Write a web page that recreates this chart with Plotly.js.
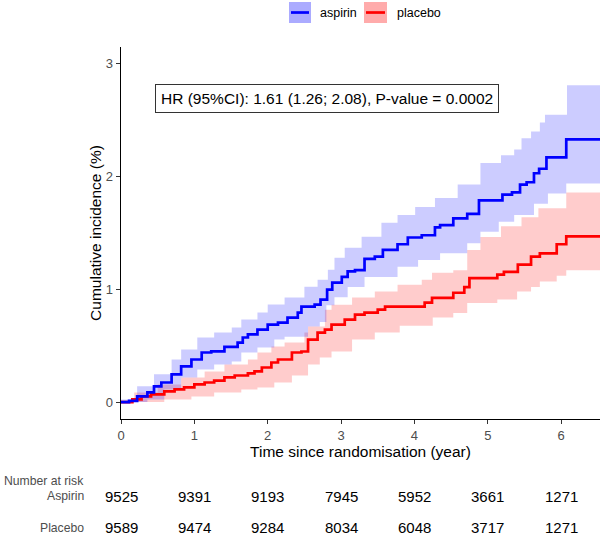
<!DOCTYPE html>
<html>
<head>
<meta charset="utf-8">
<script src="https://cdn.plot.ly/plotly-3.0.1.min.js"></script>
<style>
html,body{margin:0;padding:0;background:#fff;}
#chart{width:600px;height:539px;}
</style>
</head>
<body>
<div id="chart"></div>
<script>
// ---- data ----
var aspirinTime = [0, 0.11, 0.22, 0.36, 0.45, 0.55, 0.69, 0.82, 0.96, 1.10, 1.23, 1.41, 1.59, 1.66, 1.73, 1.86, 2.00, 2.14, 2.27, 2.41, 2.46, 2.64, 2.72, 2.81, 2.88, 3.01, 3.09, 3.19, 3.32, 3.46, 3.57, 3.77, 3.91, 4.10, 4.28, 4.35, 4.53, 4.72, 4.88, 5.20, 5.33, 5.44, 5.53, 5.63, 5.70, 5.80, 6.07, 6.53];
var aspirinInc  = [0, 0.01, 0.05, 0.086, 0.14, 0.174, 0.245, 0.316, 0.378, 0.44, 0.45, 0.49, 0.528, 0.573, 0.60, 0.643, 0.688, 0.705, 0.75, 0.794, 0.847, 0.865, 0.909, 0.997, 1.06, 1.11, 1.16, 1.17, 1.27, 1.29, 1.35, 1.40, 1.46, 1.48, 1.55, 1.57, 1.63, 1.67, 1.79, 1.84, 1.86, 1.93, 1.95, 2.03, 2.07, 2.17, 2.33, 2.33];

var aspirinUpperTime = [0, 0.22, 0.45, 0.69, 0.82, 1.04, 1.27, 1.51, 1.64, 1.86, 2.00, 2.23, 2.50, 2.68, 2.82, 2.91, 3.05, 3.28, 3.55, 3.77, 4.01, 4.28, 4.59, 4.90, 5.18, 5.36, 5.46, 5.59, 5.71, 5.78, 6.08, 6.53];
var aspirinUpper     = [0.024, 0.14, 0.246, 0.378, 0.466, 0.573, 0.617, 0.661, 0.732, 0.794, 0.865, 0.927, 1.024, 1.086, 1.174, 1.28, 1.37, 1.466, 1.59, 1.66, 1.73, 1.81, 1.93, 2.12, 2.19, 2.24, 2.34, 2.40, 2.48, 2.55, 2.81, 2.81];
var aspirinLowerTime = [0, 0.36, 0.59, 0.82, 1.04, 1.27, 1.51, 1.64, 1.86, 2.09, 2.23, 2.55, 2.71, 2.80, 2.91, 3.09, 3.32, 3.77, 4.05, 4.35, 4.72, 4.90, 5.15, 5.36, 5.63, 5.82, 6.07, 6.53];
var aspirinLower     = [0, 0.024, 0.112, 0.219, 0.29, 0.334, 0.36, 0.44, 0.484, 0.555, 0.58, 0.67, 0.71, 0.86, 0.93, 1.02, 1.11, 1.20, 1.26, 1.32, 1.41, 1.51, 1.60, 1.66, 1.76, 1.85, 1.94, 1.94];

var placeboTime = [0, 0.155, 0.28, 0.41, 0.59, 0.73, 0.86, 1.00, 1.14, 1.27, 1.41, 1.55, 1.73, 1.82, 1.92, 2.05, 2.14, 2.33, 2.46, 2.55, 2.68, 2.78, 2.87, 3.05, 3.19, 3.32, 3.50, 3.60, 4.14, 4.24, 4.53, 4.68, 4.75, 5.13, 5.22, 5.41, 5.59, 5.71, 5.94, 6.07, 6.53];
var placeboInc  = [0, 0.024, 0.05, 0.068, 0.095, 0.112, 0.13, 0.157, 0.174, 0.19, 0.219, 0.236, 0.254, 0.272, 0.307, 0.351, 0.378, 0.44, 0.449, 0.555, 0.617, 0.643, 0.688, 0.732, 0.776, 0.794, 0.82, 0.846, 0.882, 0.925, 0.97, 1.02, 1.10, 1.13, 1.155, 1.22, 1.29, 1.32, 1.40, 1.47, 1.47];

var placeboUpperTime = [0, 0.18, 0.50, 0.82, 1.14, 1.41, 1.73, 1.86, 2.05, 2.23, 2.50, 2.55, 2.78, 2.87, 3.15, 3.46, 3.77, 4.10, 4.24, 4.53, 4.72, 4.90, 5.18, 5.46, 5.69, 6.07, 6.53];
var placeboUpper     = [0, 0.086, 0.157, 0.219, 0.272, 0.334, 0.378, 0.44, 0.493, 0.528, 0.617, 0.67, 0.82, 0.864, 0.927, 0.98, 1.04, 1.086, 1.147, 1.17, 1.35, 1.465, 1.56, 1.64, 1.72, 1.86, 1.86];
var placeboLowerTime = [0, 0.59, 0.96, 1.27, 1.64, 1.86, 2.09, 2.33, 2.55, 2.71, 2.87, 3.15, 3.46, 3.80, 4.25, 4.53, 4.72, 5.13, 5.40, 5.59, 5.71, 5.94, 6.07, 6.53];
var placeboLower     = [0, 0.024, 0.05, 0.086, 0.112, 0.13, 0.174, 0.236, 0.334, 0.396, 0.449, 0.555, 0.617, 0.678, 0.75, 0.79, 0.88, 0.91, 0.98, 1.02, 1.07, 1.12, 1.17, 1.17];

var riskTimes   = [0, 1, 2, 3, 4, 5, 6];
var aspirinRisk = [9525, 9391, 9193, 7945, 5952, 3661, 1271];
var placeboRisk = [9589, 9474, 9284, 8034, 6048, 3717, 1271];

var hrText = 'HR (95%CI): 1.61 (1.26; 2.08), P-value = 0.0002';

// ---- styling ----
var FONT = 'Liberation Sans, Arial, sans-serif';
var BLUE = '#0000FF', RED = '#FF0000';
var BLUE_BAND = 'rgba(0,0,255,0.2)', RED_BAND = 'rgba(255,0,0,0.2)';

// build step (post) vertices from a time/value series
function stepify(xs, ys) {
  var sx = [], sy = [];
  for (var i = 0; i < xs.length; i++) {
    if (i > 0) { sx.push(xs[i]); sy.push(ys[i - 1]); }
    sx.push(xs[i]); sy.push(ys[i]);
  }
  return {x: sx, y: sy};
}

function band(xl, yl, xu, yu, fill, name) {
  var up = stepify(xu, yu), lo = stepify(xl, yl);
  return {
    x: up.x.concat(lo.x.slice().reverse()),
    y: up.y.concat(lo.y.slice().reverse()),
    type: 'scatter', mode: 'lines', fill: 'toself', fillcolor: fill,
    line: {width: 0}, showlegend: false, hoverinfo: 'skip', name: name + ' 95% CI'
  };
}

var traces = [
  band(placeboLowerTime, placeboLower, placeboUpperTime, placeboUpper, RED_BAND, 'placebo'),
  band(aspirinLowerTime, aspirinLower, aspirinUpperTime, aspirinUpper, BLUE_BAND, 'aspirin'),
  {x: placeboTime, y: placeboInc, type: 'scatter', mode: 'lines', name: 'placebo',
   line: {color: RED, width: 2.7, shape: 'hv'}, showlegend: false},
  {x: aspirinTime, y: aspirinInc, type: 'scatter', mode: 'lines', name: 'aspirin',
   line: {color: BLUE, width: 2.7, shape: 'hv'}, showlegend: false}
];

var LABEL_X = -0.0731;
var annotations = [
  {xref: 'paper', yref: 'paper', x: 0.431, y: 0.862, xanchor: 'center', yanchor: 'middle',
   text: hrText, showarrow: false, font: {family: FONT, size: 15.5, color: '#000'},
   bgcolor: '#fff', bordercolor: '#333', borderwidth: 1, borderpad: 5},
  {xref: 'paper', yref: 'paper', x: LABEL_X, y: -0.167, xanchor: 'right', yanchor: 'middle',
   text: 'Number at risk', showarrow: false, font: {family: FONT, size: 12.2, color: '#4D4D4D'}},
  {xref: 'paper', yref: 'paper', x: LABEL_X, y: -0.207, xanchor: 'right', yanchor: 'middle',
   text: 'Aspirin', showarrow: false, font: {family: FONT, size: 12.2, color: '#4D4D4D'}},
  {xref: 'paper', yref: 'paper', x: LABEL_X, y: -0.293, xanchor: 'right', yanchor: 'middle',
   text: 'Placebo', showarrow: false, font: {family: FONT, size: 12.2, color: '#4D4D4D'}},
  {xref: 'paper', yref: 'paper', x: 0.411, y: 1.092, xanchor: 'left', yanchor: 'middle',
   text: 'aspirin', showarrow: false, font: {family: FONT, size: 12.5, color: '#000'}},
  {xref: 'paper', yref: 'paper', x: 0.572, y: 1.092, xanchor: 'left', yanchor: 'middle',
   text: 'placebo', showarrow: false, font: {family: FONT, size: 12.5, color: '#000'}}
];
riskTimes.forEach(function (t, i) {
  annotations.push({xref: 'x', yref: 'paper', x: t, y: -0.207, xanchor: 'center', yanchor: 'middle',
    text: String(aspirinRisk[i]), showarrow: false, font: {family: FONT, size: 15, color: '#000'}});
  annotations.push({xref: 'x', yref: 'paper', x: t, y: -0.293, xanchor: 'center', yanchor: 'middle',
    text: String(placeboRisk[i]), showarrow: false, font: {family: FONT, size: 15, color: '#000'}});
});

var shapes = [
  {type: 'rect', xref: 'paper', yref: 'paper', x0: 0.3507, x1: 0.3967, y0: 1.0645, y1: 1.121,
   fillcolor: 'rgba(0,0,255,0.33)', line: {width: 0}},
  {type: 'line', xref: 'paper', yref: 'paper', x0: 0.3549, x1: 0.3925, y0: 1.0927, y1: 1.0927,
   line: {color: BLUE, width: 2.7}},
  {type: 'rect', xref: 'paper', yref: 'paper', x0: 0.5073, x1: 0.5553, y0: 1.0645, y1: 1.121,
   fillcolor: 'rgba(255,0,0,0.33)', line: {width: 0}},
  {type: 'line', xref: 'paper', yref: 'paper', x0: 0.5115, x1: 0.5511, y0: 1.0927, y1: 1.0927,
   line: {color: RED, width: 2.7}}
];

var axisCommon = {
  showgrid: false, zeroline: false, showline: true, linecolor: '#000', linewidth: 1.3,
  ticks: 'outside', ticklen: 4, tickwidth: 1, tickcolor: '#333',
  tickfont: {family: FONT, size: 13, color: '#4D4D4D'}
};

var layout = {
  width: 600, height: 539,
  margin: {l: 121, r: 0, t: 47, b: 120},
  paper_bgcolor: '#fff', plot_bgcolor: '#fff',
  showlegend: false,
  font: {family: FONT},
  xaxis: Object.assign({}, axisCommon, {
    range: [0, 6.53], tickvals: riskTimes, ticktext: riskTimes.map(String),
    title: {text: 'Time since randomisation (year)', font: {family: FONT, size: 15.5, color: '#000'}, standoff: 4}
  }),
  yaxis: Object.assign({}, axisCommon, {
    range: [-0.15, 3.15], tickvals: [0, 1, 2, 3],
    title: {text: 'Cumulative incidence (%)', font: {family: FONT, size: 15.5, color: '#000'}, standoff: 0}
  }),
  annotations: annotations,
  shapes: shapes
};

Plotly.newPlot('chart', traces, layout, {displayModeBar: false, staticPlot: true});
</script>
</body>
</html>
